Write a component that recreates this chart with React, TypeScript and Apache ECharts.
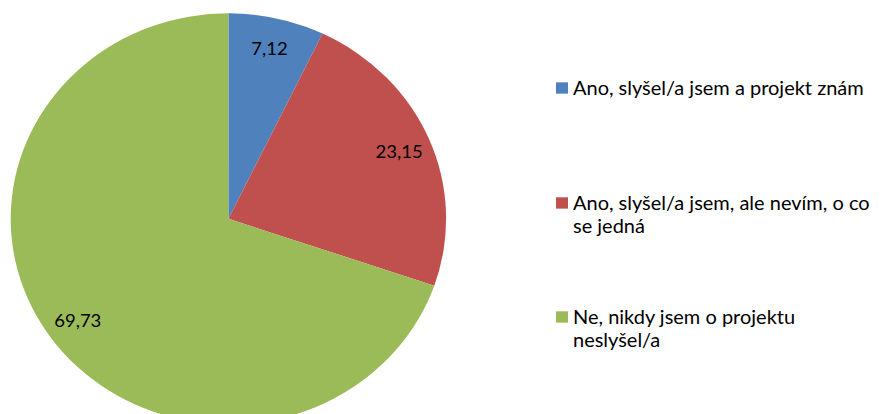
import React, { useEffect, useRef } from "react";
import * as echarts from "echarts";

const categories = [
  "Ano, slyšel/a jsem a projekt znám",
  "Ano, slyšel/a jsem, ale nevím, o co se jedná",
  "Ne, nikdy jsem o projektu neslyšel/a",
];
const legendLines = [
  ["Ano, slyšel/a jsem a projekt znám"],
  ["Ano, slyšel/a jsem, ale nevím, o co", "se jedná"],
  ["Ne, nikdy jsem o projektu", "neslyšel/a"],
];
const values = [7.12, 23.15, 69.73];
const colors = ["#4F81BD", "#C0504D", "#9BBB59"];

const SCALE_Y = 0.944;
const CHART_H = 439;
const FONT = "Lato, 'Open Sans', sans-serif";
const LEGEND_FS = 20;
const LABEL_FS = 18.5;
const LH = 24.4;

export default function App() {
  const ref = useRef<HTMLDivElement>(null);
  useEffect(() => {
    if (!ref.current) return;
    const chart = echarts.init(ref.current, null, { renderer: "svg" });
    const iconCenters = [93.2, 215, 335.8];
    chart.setOption({
      animation: false,
      backgroundColor: "#ffffff",
      legend: categories.map((name, i) => {
        const lines = legendLines[i];
        // pad with an empty line so that the first line sits level with the icon
        const shown = lines.length > 1 ? ["", ...lines] : lines;
        return {
          orient: "vertical",
          left: 556,
          top: iconCenters[i] - (shown.length * LH) / 2,
          padding: 0,
          itemWidth: 12,
          itemHeight: 12,
          itemGap: 0,
          icon: "rect",
          selectedMode: false,
          formatter: () => shown.join("\n"),
          textStyle: {
            fontFamily: FONT,
            fontSize: LEGEND_FS,
            lineHeight: LH,
            color: "#000",
          },
          data: [{ name, itemStyle: { color: colors[i] } }],
        };
      }),
      series: [
        {
          type: "pie",
          center: [228.4, 231.8],
          radius: 217.7,
          startAngle: 90,
          clockwise: true,
          silent: true,
          label: { show: false },
          labelLine: { show: false },
          data: categories.map((name, i) => ({
            name,
            value: values[i],
            itemStyle: { color: colors[i] },
          })),
        },
        {
          type: "pie",
          center: [228.4, 231.8],
          radius: 364,
          startAngle: 90,
          clockwise: true,
          silent: true,
          z: 3,
          itemStyle: { color: "rgba(0,0,0,0)" },
          label: {
            show: true,
            position: "inside",
            fontFamily: FONT,
            fontSize: LABEL_FS,
            color: "#000",
            formatter: (p: any) => String(p.value).replace(".", ","),
          },
          labelLine: { show: false },
          data: categories.map((name, i) => ({
            name,
            value: values[i],
            itemStyle: { color: "rgba(0,0,0,0)" },
          })),
        },
      ],
    });
    return () => chart.dispose();
  }, []);
  return (
    <div
      style={{
        position: "absolute",
        left: 0,
        top: 0,
        width: 886,
        height: 414,
        overflow: "hidden",
        background: "#fff",
      }}
    >
      <div
        ref={ref}
        style={{
          width: 886,
          height: CHART_H,
          transform: `scaleY(${SCALE_Y})`,
          transformOrigin: "0 0",
        }}
      />
    </div>
  );
}
